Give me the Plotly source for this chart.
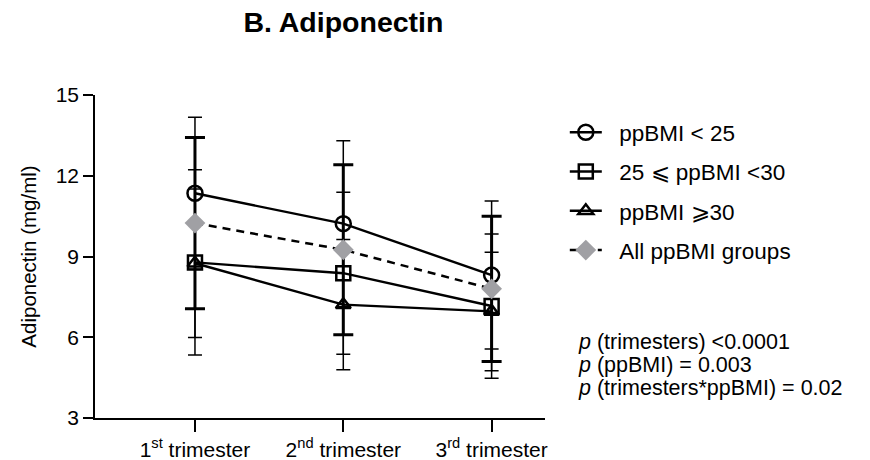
import plotly.graph_objects as go

# Trimester categories (x axis)
trimesters = ["1<sup>st</sup> trimester", "2<sup>nd</sup> trimester", "3<sup>rd</sup> trimester"]

# Adiponectin means and SD (mg/ml) per pre-pregnancy BMI group
bmi_lt25_mean = [11.35, 10.22, 8.31]
bmi_lt25_sd = [2.82, 3.08, 2.75]

bmi_25_30_mean = [8.78, 8.38, 7.16]
bmi_25_30_sd = [3.44, 3.01, 2.68]

bmi_ge30_mean = [8.75, 7.21, 6.96]
bmi_ge30_sd = [2.76, 2.42, 2.20]

bmi_all_mean = [10.24, 9.25, 7.80]
bmi_all_sd = [3.18, 3.16, 2.70]

y_ticks = [3, 6, 9, 12, 15]

group_names = [
    "ppBMI &lt; 25",
    "25 ⩽ ppBMI &lt;30",
    "ppBMI ⩾30",
    "All ppBMI groups",
]

p_lines = [
    "<i>p</i> (trimesters) &lt;0.0001",
    "<i>p</i> (ppBMI) = 0.003",
    "<i>p</i> (trimesters*ppBMI) = 0.02",
]
p_line_y = [0.235, 0.164, 0.093]

FONT = "Arial, 'Liberation Sans', sans-serif"
BLACK = "#000000"
GREY = "#a0a0a4"
PAD = "&nbsp;&nbsp;"  # gap between legend symbol and label

fig = go.Figure()


def add_group(name, mean, sd, symbol, size, group):
    fig.add_trace(go.Scatter(
        x=trimesters,
        y=mean,
        name=PAD + name,
        legendgroup=group,
        mode="lines+markers",
        line=dict(color=BLACK, width=2.4),
        marker=dict(symbol=symbol, size=size, color=BLACK,
                    line=dict(color=BLACK, width=2.5)),
        error_y=dict(type="data", array=sd, symmetric=True,
                     color=BLACK, thickness=1.5, width=7),
    ))


add_group(group_names[0], bmi_lt25_mean, bmi_lt25_sd, "circle-open", 15, "g1")
add_group(group_names[1], bmi_25_30_mean, bmi_25_30_sd, "square-open", 14, "g2")
add_group(group_names[2], bmi_ge30_mean, bmi_ge30_sd, "triangle-up-open", 13, "g3")

# Pooled groups: grey diamonds, dashed line, heavier error bars
fig.add_trace(go.Scatter(
    x=trimesters,
    y=bmi_all_mean,
    name=PAD + group_names[3],
    legendgroup="g4",
    mode="lines+markers",
    line=dict(color=BLACK, width=2.5, dash="8px,6px"),
    marker=dict(symbol="diamond", size=16, color=GREY,
                line=dict(color=GREY, width=0)),
    error_y=dict(type="data", array=bmi_all_sd, symmetric=True,
                 color=BLACK, thickness=3, width=10),
))

for txt, yy in zip(p_lines, p_line_y):
    fig.add_annotation(
        text=txt,
        xref="paper", yref="paper",
        x=1.069, y=yy,
        xanchor="left", yanchor="middle",
        align="left",
        showarrow=False,
        font=dict(family=FONT, size=21.5, color=BLACK),
    )

fig.update_layout(
    width=870,
    height=460,
    margin=dict(l=95, r=325, t=95, b=42, autoexpand=False),
    paper_bgcolor="white",
    plot_bgcolor="white",
    font=dict(family=FONT, size=21, color=BLACK),
    title=dict(
        text="<b>B. Adiponectin</b>",
        font=dict(family=FONT, size=28.5, color=BLACK),
        xref="paper", x=0.552, xanchor="center",
        yref="container", y=0.952, yanchor="middle",
    ),
    showlegend=True,
    legend=dict(
        x=1.044, y=0.95,
        xanchor="left", yanchor="top",
        font=dict(family=FONT, size=22.5, color=BLACK),
        traceorder="grouped",
        tracegroupgap=7,
        itemwidth=32,
        bgcolor="rgba(0,0,0,0)",
    ),
    xaxis=dict(
        type="category",
        range=[-0.674, 2.36],
        showline=True, linecolor=BLACK, linewidth=1.5,
        ticks="outside", ticklen=12, tickwidth=1.5, tickcolor=BLACK,
        showgrid=False, zeroline=False,
        tickfont=dict(family=FONT, size=21, color=BLACK),
    ),
    yaxis=dict(
        range=[3, 15],
        tickvals=y_ticks,
        showline=True, linecolor=BLACK, linewidth=1.5,
        ticks="outside", ticklen=10, tickwidth=1.5, tickcolor=BLACK,
        showgrid=False, zeroline=False,
        tickfont=dict(family=FONT, size=21, color=BLACK),
        title=dict(text="Adiponectin (mg/ml)",
                   font=dict(family=FONT, size=20.5, color=BLACK),
                   standoff=14),
    ),
)

fig.write_html("out.html")
